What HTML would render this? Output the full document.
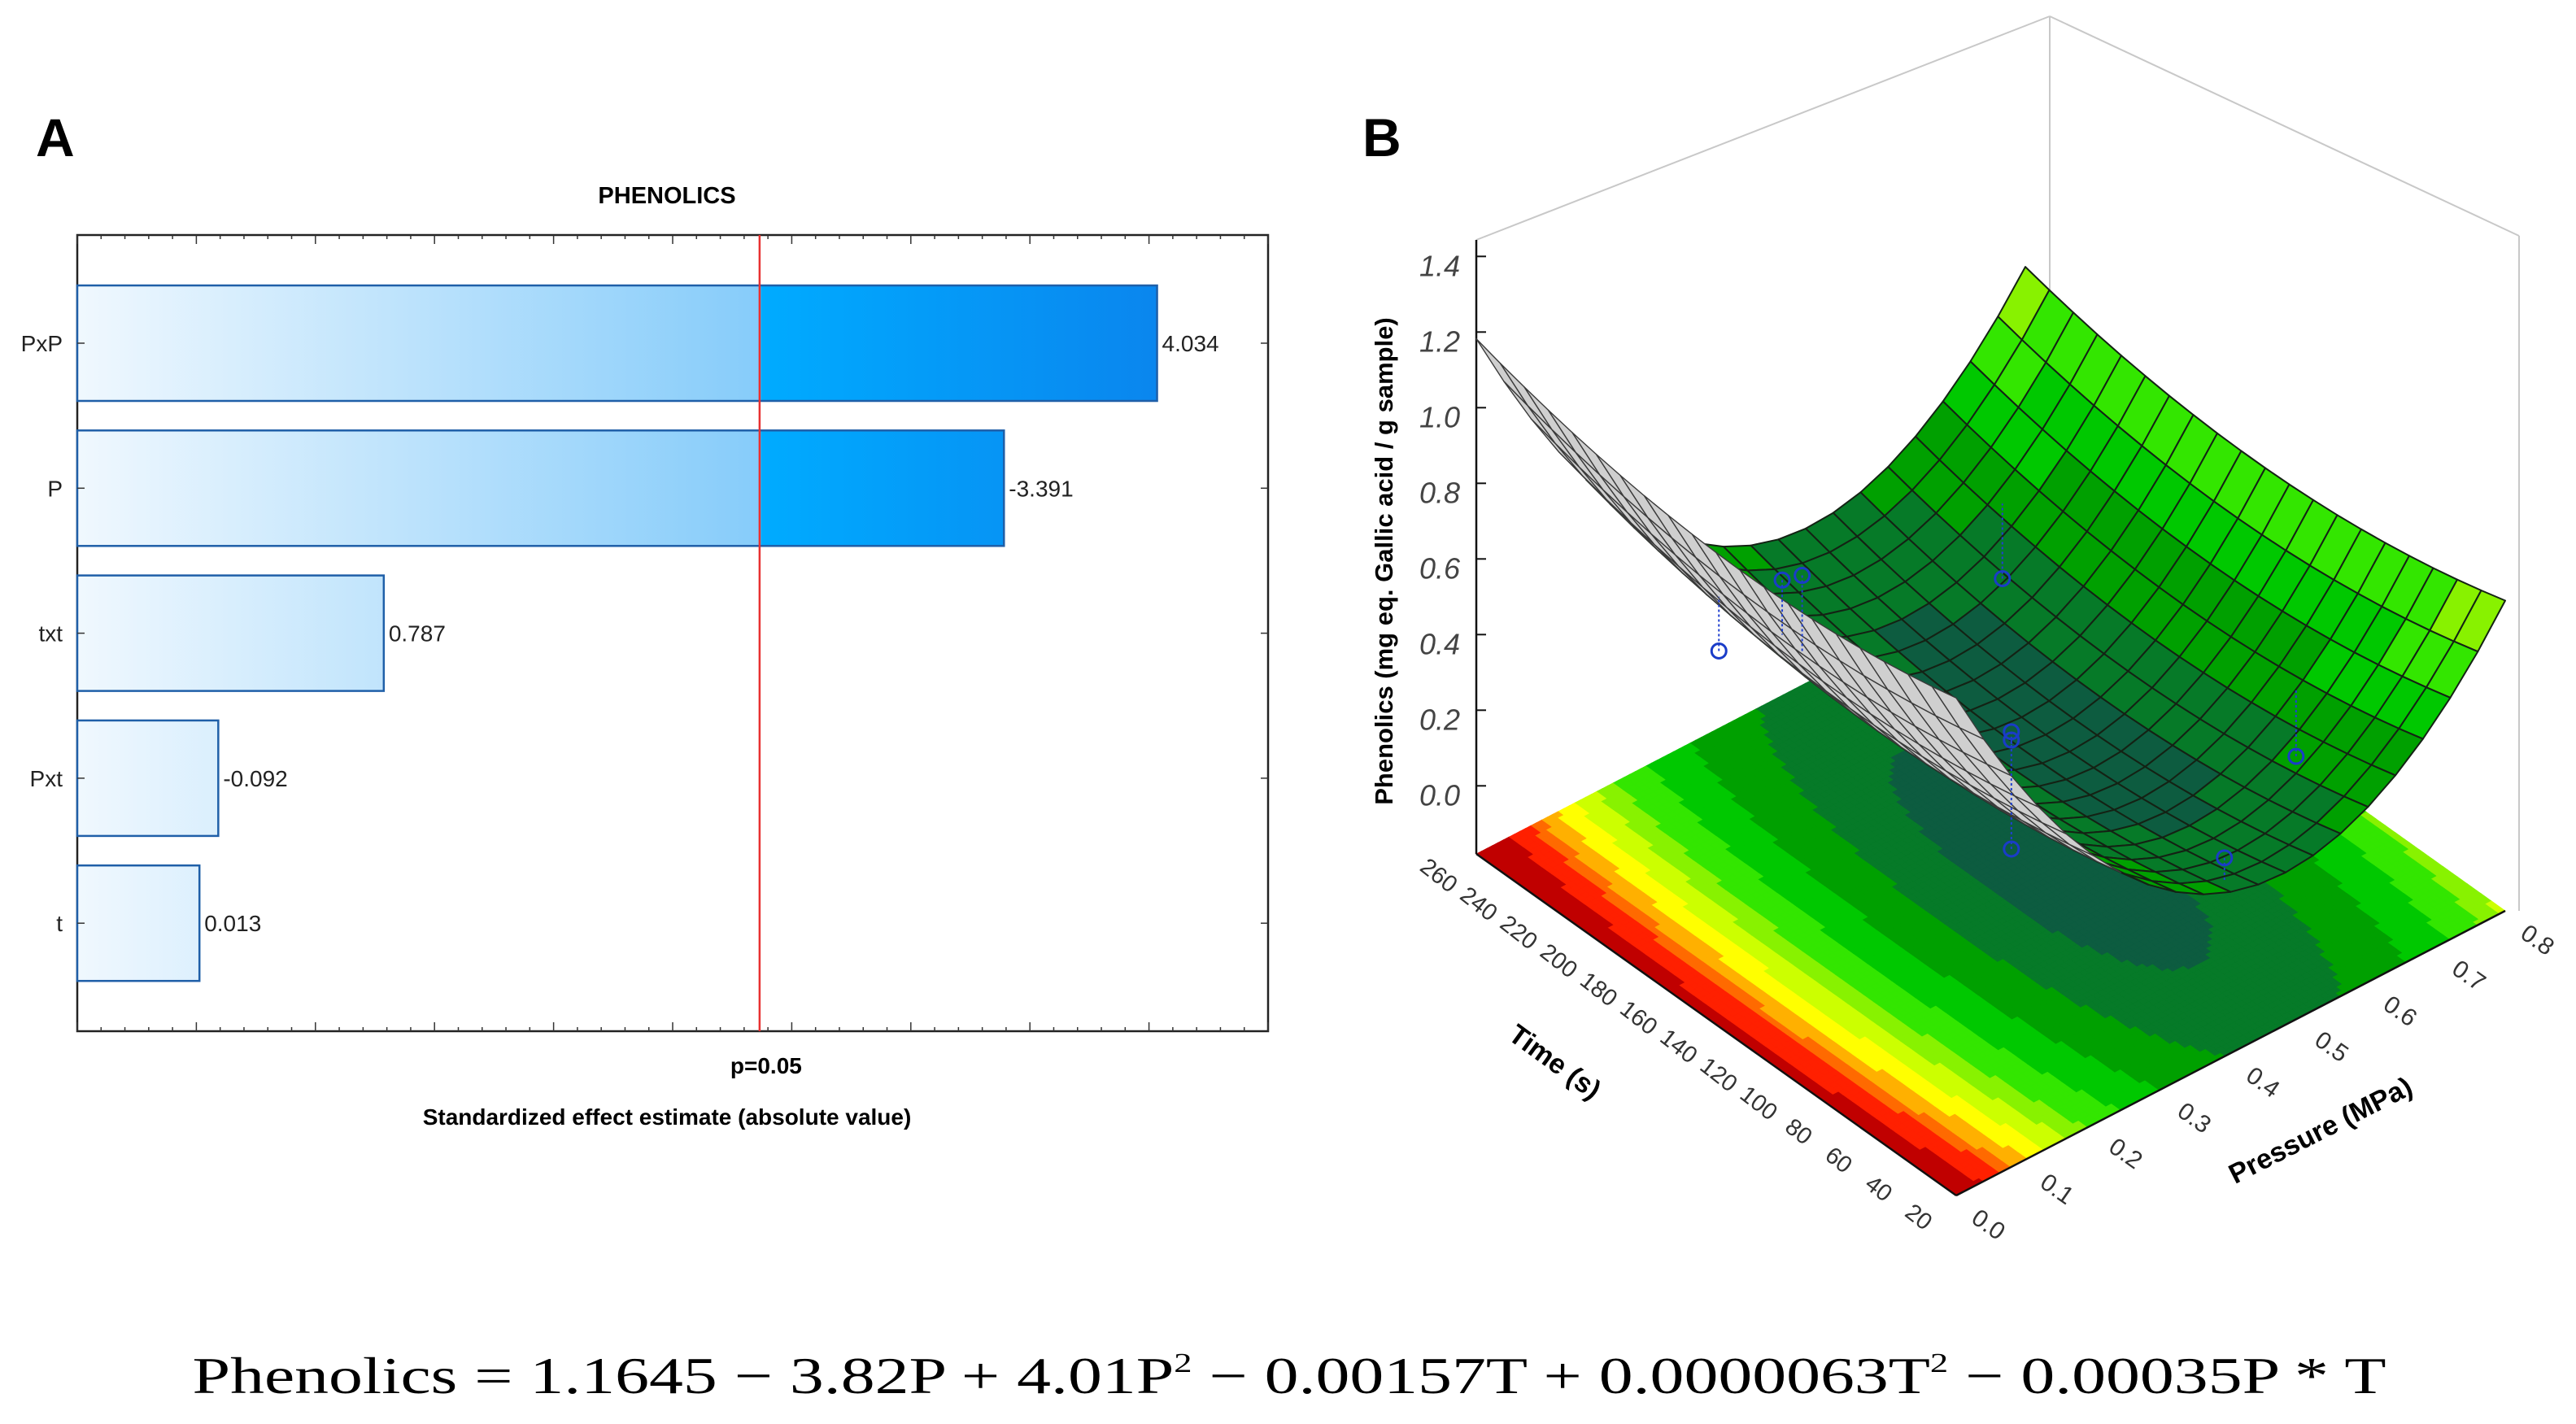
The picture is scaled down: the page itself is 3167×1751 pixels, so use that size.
<!DOCTYPE html>
<html><head><meta charset="utf-8">
<style>
html,body{margin:0;padding:0;background:#fff;}
svg{display:block;font-family:"Liberation Sans",Arial,sans-serif;}
</style></head>
<body>
<svg id="fig" width="3167" height="1751" viewBox="0 0 3167 1751" xmlns="http://www.w3.org/2000/svg">
<defs>
<linearGradient id="barGrad" gradientUnits="userSpaceOnUse" x1="95" y1="0" x2="1422" y2="0">
<stop offset="0" stop-color="#f0f8fe"/>
<stop offset="0.632" stop-color="#86ccfa"/>
<stop offset="0.634" stop-color="#00abff"/>
<stop offset="1" stop-color="#0a86ee"/>
</linearGradient>
</defs>
<text x="44" y="192" font-size="66" font-weight="bold">A</text>
<text x="1675" y="192" font-size="66" font-weight="bold">B</text>
<text x="820" y="250" font-size="29" font-weight="bold" text-anchor="middle">PHENOLICS</text>
<g id="pareto"></g>
<g id="surf"></g>
<text x="1585" y="1713" font-family="'Liberation Serif',serif" font-size="64" text-anchor="middle" textLength="2697" lengthAdjust="spacingAndGlyphs">Phenolics = 1.1645 − 3.82P + 4.01P<tspan font-size="34" dy="-26">2</tspan><tspan dy="26"> − 0.00157T + 0.0000063T</tspan><tspan font-size="34" dy="-26">2</tspan><tspan dy="26"> − 0.00035P * T</tspan></text>
</svg>
<script>
// ---------- Pareto chart data ----------
const categories = ["PxP","P","txt","Pxt","t"];
const effects = [4.034, 3.391, 0.787, 0.092, 0.013];
const valueLabels = ["4.034","-3.391","0.787","-0.092","0.013"];
const pCritical = 2.365;
const xDomain = [-0.5, 4.5];

// ---------- Surface data ----------
const coef = [1.1645, -3.82, 4.01, -0.00157, 0.0000063, -0.00035];
const zTicks = [0.0,0.2,0.4,0.6,0.8,1.0,1.2,1.4];
const timeTicks = [20,40,60,80,100,120,140,160,180,200,220,240,260];
const pressureTicks = [0.0,0.1,0.2,0.3,0.4,0.5,0.6,0.7,0.8];
const obsP = [0.1, 0.3, 0.3, 0.65, 0.43, 0.43, 0.43, 0.67, 0.42];
const obsT = [173, 210, 200, 220, 140, 140, 140, 80, 30];
const obsZ = [0.59, 0.45, 0.50, 0.087, 0.19, 0.168, -0.12, 0.125, 0.28];

const NS = "http://www.w3.org/2000/svg";
function mk(tag, attrs, parent){
  const e = document.createElementNS(NS, tag);
  for (const k in attrs) e.setAttribute(k, attrs[k]);
  parent.appendChild(e);
  return e;
}

// ===== Pareto =====
(function(){
  const g = document.getElementById('pareto');
  const L=95, R=1559, T=289, B=1268;
  const xs = v => L + (v - xDomain[0])/(xDomain[1]-xDomain[0])*(R-L);
  const band = 178.3, bh = 142, c0 = 422;
  const frame = mk('rect',{x:L,y:T,width:R-L,height:B-T,fill:'none',stroke:'#222','stroke-width':2.5},g);
  
  
  for (let i=0;i<=50;i++){
    const v = xDomain[0] + i*0.1;
    const x = xs(v);
    const len = (i%5===0)?11:5;
    const t1 = mk('line',{x1:x,y1:B,x2:x,y2:B-len,stroke:'#333','stroke-width':1.5},g);
    
    
    const t2 = mk('line',{x1:x,y1:T,x2:x,y2:T+len,stroke:'#333','stroke-width':1.5},g);
    
    
  }
  categories.forEach((c,i)=>{
    const cy = c0 + i*band;
    const r = mk('rect',{x:L,y:cy-bh/2,width:xs(effects[i])-L,height:bh,fill:'url(#barGrad)',stroke:'#1f5fa8','stroke-width':2.5},g);
    
    
    const lt = mk('text',{x:77,y:cy+10,'font-size':28,'text-anchor':'end',fill:'#222'},g);
    lt.textContent = c;
    
    
    const vt = mk('text',{x:xs(effects[i])+6,y:cy+10,'font-size':28,fill:'#222'},g);
    vt.textContent = valueLabels[i];
    
    
    const tl = mk('line',{x1:L,y1:cy,x2:L+9,y2:cy,stroke:'#333','stroke-width':1.5},g);
    
    
    const tr = mk('line',{x1:R,y1:cy,x2:R-9,y2:cy,stroke:'#333','stroke-width':1.5},g);
    
    
  });
  const rl = mk('line',{x1:xs(pCritical),y1:T,x2:xs(pCritical),y2:B,stroke:'#e83030','stroke-width':2.5},g);
  
  
  const pl = mk('text',{x:xs(pCritical)+8,y:1320,'font-size':28,'font-weight':'bold','text-anchor':'middle'},g);
  pl.textContent = 'p=0.05';
  
  
  const xt = mk('text',{x:820,y:1383,'font-size':28,'font-weight':'bold','text-anchor':'middle'},g);
  xt.textContent = 'Standardized effect estimate (absolute value)';
  
  
})();

// ===== Surface =====
(function(){
  const g = document.getElementById('surf');
  const f = (P,T)=> coef[0]+coef[1]*P+coef[2]*P*P+coef[3]*T+coef[4]*T*T+coef[5]*P*T;
  const zFloor = -0.18;
  const proj = (P,T,z)=>{
    const a = P/0.8, b = (T-20)/240;
    return [2405 + a*675 - b*590, 1470 - a*350 - b*420 - (z - zFloor)*465];
  };
  const bands = [0.17,0.25,0.35,0.45,0.55,0.62,0.7,0.78,0.85,0.9,1.0];
  const cols = ['#0d5c40','#067a28','#00a000','#00c800','#33e600','#88f200','#ccff00','#ffff00','#ffb000','#ff6a00','#ff2000','#c00000'];
  const col = z => { let i=0; while(i<bands.length && z>=bands[i]) i++; return cols[i]; };
  const pts = a => a.map(p=>p[0].toFixed(1)+','+p[1].toFixed(1)).join(' ');

  const boxLines = [[[1815,295],[2520,20]],[[2520,20],[3097,290]],[[2520,20],[2520,700]],[[3097,290],[3097,1120]]];
  boxLines.forEach(l=>{
    const e = mk('line',{x1:l[0][0],y1:l[0][1],x2:l[1][0],y2:l[1][1],stroke:'#c8c8c8','stroke-width':2},g);
    
    
  });

  const fg = mk('g',{},g);
  
  
  const N=100;
  for(let i=0;i<N;i++)for(let j=0;j<N;j++){
    const P0=0.8*i/N,P1=0.8*(i+1)/N,T0=20+240*j/N,T1=20+240*(j+1)/N;
    const c = col(f((P0+P1)/2,(T0+T1)/2));
    mk('polygon',{points:pts([proj(P0,T0,zFloor),proj(P1,T0,zFloor),proj(P1,T1,zFloor),proj(P0,T1,zFloor)]),fill:c,stroke:c,'stroke-width':0.8},fg);
  }
  const fl = mk('line',{x1:2405,y1:1470,x2:3080,y2:1120,stroke:'#111','stroke-width':2.5},g);
  
  
  const tl = mk('line',{x1:2405,y1:1470,x2:1815,y2:1050,stroke:'#111','stroke-width':2.5},g);
  
  

  const za = mk('line',{x1:1815,y1:295,x2:1815,y2:1050,stroke:'#111','stroke-width':2.5},g);
  
  
  zTicks.forEach(v=>{
    const p = proj(0,260,v);
    const t = mk('line',{x1:p[0],y1:p[1],x2:p[0]+12,y2:p[1],stroke:'#111','stroke-width':2},g);
    
    
    const lb = mk('text',{x:p[0]-20,y:p[1]+24,'font-size':36,'font-style':'italic','text-anchor':'end',fill:'#444'},g);
    lb.textContent = v.toFixed(1);
    
    
  });
  const zt = mk('text',{x:0,y:0,'font-size':31,'font-weight':'bold','text-anchor':'middle',transform:'translate(1712,690) rotate(-90)'},g);
  zt.textContent = 'Phenolics (mg eq. Gallic acid / g sample)';
  
  

  timeTicks.forEach(v=>{
    const p = proj(0,v,zFloor);
    const lb = mk('text',{x:0,y:0,'font-size':29,'text-anchor':'middle',fill:'#333',transform:`translate(${p[0]-52},${p[1]+34}) rotate(38)`},g);
    lb.textContent = v;
    
    
  });
  pressureTicks.forEach(v=>{
    const p = proj(v,20,zFloor);
    const lb = mk('text',{x:0,y:0,'font-size':30,'text-anchor':'middle',fill:'#333',transform:`translate(${p[0]+34},${p[1]+44}) rotate(35)`},g);
    lb.textContent = v.toFixed(1);
    
    
  });
  const tt = mk('text',{x:0,y:0,'font-size':34,'font-weight':'bold','text-anchor':'middle',transform:'translate(1905,1315) rotate(36)'},g);
  tt.textContent = 'Time (s)';
  
  
  const pt = mk('text',{x:0,y:0,'font-size':34,'font-weight':'bold','text-anchor':'middle',transform:'translate(2858,1400) rotate(-27)'},g);
  pt.textContent = 'Pressure (MPa)';
  
  

  const sg = mk('g',{},g);
  
  
  const M=20, cells=[];
  for(let i=0;i<M;i++)for(let j=0;j<M;j++){
    const P0=0.8*i/M,P1=0.8*(i+1)/M,T0=20+240*j/M,T1=20+240*(j+1)/M;
    const q=[proj(P0,T0,f(P0,T0)),proj(P1,T0,f(P1,T0)),proj(P1,T1,f(P1,T1)),proj(P0,T1,f(P0,T1))];
    const pm=(P0+P1)/2, tm=(T0+T1)/2;
    const depth = 1470 - 437.5*pm - 1.75*(tm-20);
    const cr = (q[1][0]-q[0][0])*(q[3][1]-q[0][1]) - (q[1][1]-q[0][1])*(q[3][0]-q[0][0]);
    cells.push({q,depth,front:cr<0,z:f(pm,tm)});
  }
  const a=proj(0,20,0),b=proj(0.04,20,0),c=proj(0,32,0);
  const refFront = ((b[0]-a[0])*(c[1]-a[1]) - (b[1]-a[1])*(c[0]-a[0]))<0;
  cells.sort((u,v)=>u.depth-v.depth);
  cells.forEach(cl=>{
    const isFront = cl.front===refFront;
    mk('polygon',{points:pts(cl.q),fill:isFront?col(cl.z):'#cfcfcf',stroke:isFront?'#142214':'#3a3a3a','stroke-width':isFront?2:1.4,'stroke-linejoin':'round'},sg);
  });

  obsP.forEach((P,i)=>{
    const p = proj(P,obsT[i],obsZ[i]);
    const s = proj(P,obsT[i],f(P,obsT[i]));
    const dl = mk('line',{x1:p[0],y1:p[1],x2:s[0],y2:s[1],stroke:'#2040d0','stroke-width':2,'stroke-dasharray':'3,3'},g);
    
    
    const ci = mk('circle',{cx:p[0],cy:p[1],r:9,fill:'none',stroke:'#1a3cc8','stroke-width':3},g);
    
    
  });
})();
</script>
</body></html>
